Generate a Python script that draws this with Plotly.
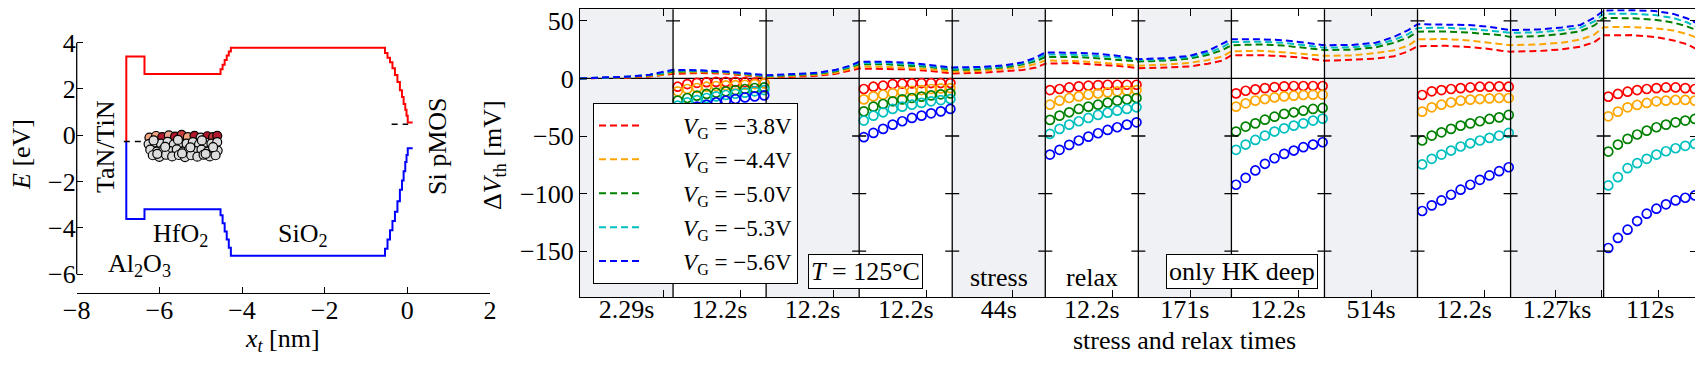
import plotly.graph_objects as go

# page body keeps the browser's default 8px margin, so the figure is drawn 8px in
OFF = 8
W, H = 1703 - OFF, 366 - OFF
FONT = "Liberation Serif, DejaVu Serif, Times New Roman, serif"
FS = 26
LEG_FS = 23

# ---------------- left panel: band diagram ----------------
cb_x = [-6.80, -6.80, -6.36, -4.52, -4.47, -4.42, -4.37, -4.32, -4.27,
        -0.54, -0.48, -0.42, -0.36, -0.30, -0.24, -0.18, -0.13, -0.09, -0.05, -0.02, 0.01, 0.13]
cb_y = [-0.25, 3.40, 2.65, 2.85, 3.05, 3.25, 3.45, 3.62, 3.78,
        3.55, 3.35, 3.15, 2.90, 2.60, 2.30, 1.95, 1.65, 1.35, 1.10, 0.85, 0.55, 0.55]
vb_x = [-6.80, -6.80, -6.36, -4.52, -4.47, -4.42, -4.37, -4.32, -4.27,
        -0.54, -0.48, -0.42, -0.36, -0.30, -0.24, -0.18, -0.13, -0.09, -0.05, -0.02, 0.01, 0.13]
vb_y = [-0.25, -3.61, -3.19, -3.45, -3.80, -4.15, -4.50, -4.85, -5.20,
        -4.90, -4.50, -4.10, -3.70, -3.30, -2.85, -2.35, -1.95, -1.55, -1.15, -0.85, -0.56, -0.56]
ef_metal_x = [-6.86, -6.36]
ef_metal_y = [-0.27, -0.27]
ef_si_x = [-0.38, 0.02]
ef_si_y = [0.48, 0.48]

trap_x = [-6.24, -6.08, -5.93, -5.77, -5.62, -5.46, -5.31, -5.15, -5.00, -4.84, -4.70, -4.60,
          -6.26, -6.11, -5.96, -5.80, -5.65, -5.50, -5.34, -5.19, -5.04, -4.89, -4.74, -4.60,
          -6.22, -6.06, -5.90, -5.74, -5.58, -5.43, -5.28, -5.13, -4.98, -4.83, -4.69, -4.59,
          -6.16, -6.00, -5.84, -5.69, -5.53, -5.38, -5.23, -5.08, -4.93, -4.78, -4.64,
          -6.14, -5.55, -4.97, -5.86, -5.25, -4.70, -6.05, -5.45, -4.88]
trap_y = [-0.10, -0.03, -0.08, 0.00, -0.06, 0.02, -0.08, -0.02, -0.10, -0.04, -0.08, -0.02,
          -0.38, -0.30, -0.36, -0.28, -0.39, -0.31, -0.36, -0.29, -0.39, -0.31, -0.36, -0.29,
          -0.62, -0.70, -0.60, -0.68, -0.61, -0.71, -0.60, -0.68, -0.62, -0.70, -0.60, -0.66,
          -0.86, -0.93, -0.84, -0.91, -0.85, -0.94, -0.86, -0.92, -0.84, -0.91, -0.86,
          -0.22, -0.20, -0.22, -0.50, -0.52, -0.51, -0.80, -0.78, -0.80]
trap_c = (["#f4a582", "#f4a582", "#b2182b", "#e7a08a", "#b2182b", "#c43c3c",
           "#f4a582", "#b2182b", "#d9d9d9", "#b2182b", "#c43c3c", "#b2182b"]
          + ["#dcdcdc"] * 44)

# ---------------- right panel: stress / relax ----------------
panel_labels = ["2.29s", "12.2s", "12.2s", "12.2s", "44s", "12.2s",
                "171s", "12.2s", "514s", "12.2s", "1.27ks", "112s"]
stress_panels = [0, 2, 4, 6, 8, 10]
relax_panels = [1, 3, 5, 7, 9, 11]
minor_ticks = [0.895, 1.725, 2.72, 3.727, 4.65, 5.72, 6.56, 7.725,
               8.51, 9.725, 10.484, 10.978, 11.585]
vg_names = ["−3.8V", "−4.4V", "−5.0V", "−5.3V", "−5.6V"]
vg_colors = ["#ff0000", "#ffa500", "#008000", "#00bfbf", "#0000ff"]

sim_frac = [0, 0.3, 0.55, 0.75, 0.9]
sim_m38 = [0, 0.3, 0.8, 1.7, 2.7,  4.0, 4.7, 4.2, 2.8, 1.2,  0.7, 1.4, 2.3, 4.0, 6.6,
           8.6, 8.1, 7.8, 6.6, 5.2,  4.3, 4.9, 6.1, 7.2, 9.5,  12.8, 13.3, 12.3, 11.0, 10.0,
           8.8, 9.5, 10.4, 12.8, 15.3,  20.0, 20.2, 19.3, 18.2, 16.5,  15.3, 16.2, 17.2, 19.3, 23.5,
           28.0, 28.3, 27.2, 25.8, 24.0,  23.2, 23.8, 25.2, 27.5, 31.5,  37.5, 37.6, 36.0, 33.0, 29.5,
           25.4]
sim_m44 = [0, 0.5, 1.1, 2.3, 3.5,  5.2, 5.5, 5.0, 3.5, 2.0,  1.3, 2.2, 3.2, 5.0, 8.0,
           10.4, 10.0, 9.2, 8.0, 6.8,  5.8, 6.5, 8.0, 10.0, 12.5,  15.6, 15.2, 14.0, 12.8, 11.8,
           11.0, 12.0, 13.5, 16.0, 19.0,  23.5, 24.0, 22.8, 21.5, 20.3,  19.6, 20.0, 22.0, 24.5, 28.5,
           34.0, 34.2, 33.0, 31.0, 29.5,  28.9, 29.5, 31.0, 33.7, 38.0,  44.5, 44.6, 43.5, 41.5, 38.5,
           35.4]
sim_m50 = [0, 0.6, 1.4, 2.8, 4.3,  6.0, 6.2, 5.5, 4.0, 2.6,  1.9, 3.0, 4.0, 6.2, 9.5,
           12.2, 12.2, 11.2, 10.0, 8.5,  7.3, 8.0, 9.5, 12.0, 15.0,  18.6, 18.7, 17.6, 16.5, 15.5,
           14.7, 15.5, 17.2, 20.5, 24.5,  28.8, 29.5, 28.6, 27.0, 25.5,  24.6, 25.0, 27.0, 31.0, 35.5,
           40.6, 40.7, 39.8, 38.7, 37.5,  36.0, 36.7, 38.5, 41.0, 46.0,  52.4, 52.3, 51.0, 48.5, 45.0,
           41.9]
sim_m53 = [0, 0.7, 1.6, 3.1, 4.8,  6.8, 6.7, 5.8, 4.4, 2.9,  2.3, 3.4, 4.5, 6.9, 10.3,
           13.3, 13.3, 12.4, 11.0, 9.4,  8.3, 9.0, 10.5, 13.0, 16.5,  20.7, 20.6, 19.6, 18.5, 17.0,
           15.9, 16.6, 18.5, 22.0, 27.0,  31.5, 31.9, 31.0, 29.3, 27.8,  26.7, 27.0, 29.0, 33.5, 38.5,
           43.8, 44.0, 43.0, 41.8, 40.5,  39.5, 40.0, 41.8, 44.0, 49.5,  56.0, 56.2, 55.0, 52.5, 48.5,
           44.8]
sim_m56 = [0, 0.9, 1.7, 3.2, 5.5,  7.5, 7.0, 6.1, 4.7, 3.2,  2.8, 3.8, 4.9, 7.5, 11.0,
           14.4, 14.4, 13.5, 12.1, 10.4,  9.5, 10.0, 11.2, 13.8, 18.2,  22.5, 22.3, 21.5, 20.0, 18.0,
           16.7, 17.6, 19.6, 24.0, 30.3,  34.0, 34.0, 33.2, 31.4, 29.6,  28.8, 29.1, 30.9, 36.1, 41.9,
           47.0, 47.0, 46.4, 45.0, 43.0,  41.9, 42.5, 44.2, 46.4, 52.8,  59.0, 59.3, 58.5, 56.0, 52.0,
           48.0]

meas_frac = [0.05, 0.153, 0.257, 0.36, 0.463, 0.567, 0.67, 0.773, 0.877, 0.98]
meas_m38 = [-7.2, -4.9, -3.8, -3.3, -3.0, -3.0, -3.0, -3.3, -3.6, -4.0,
            -9.2, -7.2, -6.3, -4.9, -4.6, -4.3, -4.0, -4.0, -4.0, -4.0,
            -10.1, -9.2, -7.8, -6.9, -6.3, -5.8, -5.5, -5.5, -5.5, -5.5,
            -13.0, -10.7, -9.5, -8.4, -7.5, -6.9, -6.6, -6.6, -6.6, -6.6,
            -14.4, -11.2, -10.1, -9.2, -8.4, -7.8, -7.2, -7.2, -6.9, -7.2,
            -15.8, -13.5, -11.5, -10.1, -9.2, -8.4, -7.8, -7.8, -8.4, -9.2]
meas_m44 = [-11.2, -9.2, -8.3, -7.2, -6.6, -6.0, -5.8, -5.5, -4.9, -4.3,
            -18.2, -15.6, -14.1, -12.7, -11.5, -10.7, -10.1, -9.2, -8.7, -8.4,
            -22.8, -19.3, -17.0, -15.6, -14.1, -13.0, -12.1, -11.2, -10.7, -10.1,
            -24.5, -21.6, -19.3, -17.9, -16.5, -15.6, -15.0, -14.4, -14.1, -14.1,
            -28.8, -25.1, -22.8, -20.8, -19.3, -18.4, -17.9, -17.3, -17.0, -17.0,
            -32.9, -28.8, -25.1, -23.0, -21.3, -19.9, -19.3, -18.7, -18.7, -19.3]
meas_m50 = [-19.3, -17.0, -15.0, -13.5, -12.4, -11.2, -10.1, -9.2, -8.3, -7.8,
            -28.6, -24.5, -22.2, -19.9, -18.2, -17.0, -15.8, -14.7, -13.8, -13.0,
            -36.0, -32.3, -29.4, -26.5, -24.5, -22.8, -21.0, -19.3, -18.2, -17.0,
            -46.1, -41.8, -39.0, -35.8, -33.2, -30.8, -29.4, -28.0, -26.5, -25.6,
            -53.9, -49.6, -46.8, -43.8, -41.0, -39.0, -37.2, -35.2, -33.8, -31.7,
            -63.5, -57.4, -52.5, -48.7, -45.3, -42.4, -40.1, -38.1, -36.6, -35.2]
meas_m53 = [-23.6, -20.8, -18.8, -17.0, -15.6, -14.4, -13.3, -12.4, -11.2, -10.1,
            -36.6, -32.3, -29.4, -26.5, -24.5, -22.8, -21.3, -19.9, -18.8, -17.9,
            -48.2, -43.8, -40.1, -37.2, -34.3, -31.7, -29.7, -28.0, -26.5, -25.1,
            -62.0, -57.4, -53.4, -49.6, -46.1, -43.3, -41.0, -39.0, -36.6, -34.9,
            -74.7, -69.8, -66.1, -62.6, -59.1, -56.3, -53.9, -51.6, -49.6, -47.3,
            -92.9, -85.7, -77.9, -73.6, -69.8, -66.1, -63.2, -60.6, -58.5, -56.8]
meas_m56 = [-28.8, -26.5, -24.5, -22.8, -20.8, -19.3, -17.9, -16.5, -15.6, -14.7,
            -51.0, -47.3, -43.8, -40.1, -37.2, -34.3, -32.3, -30.3, -28.6, -26.5,
            -66.1, -62.0, -57.7, -53.9, -50.5, -47.6, -44.7, -42.4, -40.1, -38.1,
            -92.3, -86.3, -79.9, -74.1, -69.3, -65.5, -62.6, -59.7, -57.4, -55.4,
            -115.1, -110.2, -105.9, -101.0, -96.6, -92.3, -88.0, -84.2, -80.5, -77.1,
            -147.2, -138.5, -131.3, -123.8, -117.4, -113.1, -109.3, -105.9, -103.6, -101.6]

sim_series = [sim_m38, sim_m44, sim_m50, sim_m53, sim_m56]
meas_series = [meas_m38, meas_m44, meas_m50, meas_m53, meas_m56]
sim_x = [k + f for k in range(12) for f in sim_frac] + [12]
meas_x = [k + f for k in relax_panels for f in meas_frac]


def px(p):
    """screen pixel (x) of the 1703x366 window -> paper fraction"""
    return (p - OFF) / W


def py(p):
    return 1 - (p - OFF) / H


L_X0, L_X1, L_Y0, L_Y1 = 76.7, 490.0, 9.3, 293.3
L_YR = [-6.82, 5.44]
R_X0, R_X1, R_Y0, R_Y1 = 580.0, 1696.7, 9.3, 297.3


def ly(v):
    return py(L_Y1) + (v - L_YR[0]) / (L_YR[1] - L_YR[0]) * (py(L_Y0) - py(L_Y1))


fig = go.Figure()

# left traces
fig.add_trace(go.Scatter(x=cb_x, y=cb_y, mode="lines", line=dict(color="#ff0000", width=2, shape="hv"),
                         xaxis="x", yaxis="y", showlegend=False))
fig.add_trace(go.Scatter(x=vb_x, y=vb_y, mode="lines", line=dict(color="#0000ff", width=2, shape="hv"),
                         xaxis="x", yaxis="y", showlegend=False))
for ex, ey in [(ef_metal_x, ef_metal_y), (ef_si_x, ef_si_y)]:
    fig.add_trace(go.Scatter(x=ex, y=ey, mode="lines", line=dict(color="black", width=1.5, dash="6px,5px"),
                             xaxis="x", yaxis="y", showlegend=False))
fig.add_trace(go.Scatter(x=trap_x, y=trap_y, mode="markers",
                         marker=dict(size=9, color=trap_c, line=dict(color="black", width=1.2)),
                         xaxis="x", yaxis="y", showlegend=False))

# right traces
for i in range(5):
    fig.add_trace(go.Scatter(
        x=sim_x, y=sim_series[i], mode="lines",
        line=dict(color=vg_colors[i], width=2, dash="7px,4px"),
        name="\u2002\u2002\u2002\u2009<i>V</i><sub>G</sub> = " + vg_names[i], legendgroup="g%d" % i,
        xaxis="x2", yaxis="y2", showlegend=True))
for i in range(5):
    fig.add_trace(go.Scatter(
        x=meas_x, y=meas_series[i], mode="markers",
        marker=dict(symbol="circle-open", size=9, color=vg_colors[i], line=dict(width=1.7, color=vg_colors[i])),
        xaxis="x2", yaxis="y2", showlegend=False, legendgroup="g%d" % i))

shapes = []
for k in stress_panels:
    shapes.append(dict(type="rect", xref="x2", yref="y2 domain", x0=k, x1=k + 1, y0=0, y1=1,
                       fillcolor="#f0f1f4", line=dict(width=0), layer="below"))
shapes.append(dict(type="line", xref="x2", yref="y2", x0=0, x1=12, y0=0, y1=0,
                   line=dict(color="black", width=1.3), layer="below"))
for k in range(1, 12):
    shapes.append(dict(type="line", xref="x2", yref="y2 domain", x0=k, x1=k, y0=0, y1=1,
                       line=dict(color="black", width=1.3), layer="above"))
    for v in [50, -50, -100, -150]:
        shapes.append(dict(type="line", xref="x2", xsizemode="pixel", xanchor=k, x0=-7, x1=7,
                           yref="y2", y0=v, y1=v, line=dict(color="black", width=1.3), layer="above"))
# left y spine (from -6 to 4)
shapes.append(dict(type="line", xref="paper", yref="paper", x0=px(L_X0), x1=px(L_X0),
                   y0=ly(-6), y1=ly(4), line=dict(color="black", width=1.3)))

ann = []
tf = dict(family=FONT, size=FS, color="black")


def add_text(x, y, text, rot=0, xref="paper", yref="paper", **kw):
    d = dict(x=x, y=y, xref=xref, yref=yref, text=text, showarrow=False, textangle=rot,
             font=tf, xanchor="center", yanchor="middle")
    d.update(kw)
    ann.append(d)


add_text(px(21), py(155), "<i>E</i> [eV]", rot=-90)
add_text(px(282), py(340), "<i>x<sub>t</sub></i> [nm]")
add_text(px(105), py(147), "TaN/TiN", rot=-90)
add_text(px(437), py(146), "Si pMOS", rot=-90)
add_text(px(180), py(235), "HfO<sub>2</sub>")
add_text(px(303), py(235), "SiO<sub>2</sub>")
add_text(px(139), py(265), "Al<sub>2</sub>O<sub>3</sub>")
add_text(px(494), py(155), "Δ<i>V</i><sub>th</sub> [mV]", rot=-90)
add_text(6.5, py(340), "stress and relax times", xref="x2")
add_text(4.5, py(277), "stress", xref="x2")
add_text(5.5, py(277), "relax", xref="x2")
add_text(px(866), py(271), "<i>T</i> = 125°C", bgcolor="white", bordercolor="black", borderwidth=1, borderpad=2)
add_text(px(1241.7), py(271), "only HK deep", bgcolor="white", bordercolor="black", borderwidth=1, borderpad=2)

axfont = dict(family=FONT, size=FS, color="black")
common = dict(automargin=False, showgrid=False, zeroline=False, tickfont=axfont)
fig.update_layout(
    template="none",
    width=W, height=H, margin=dict(l=0, r=0, t=0, b=0, autoexpand=False),
    paper_bgcolor="white", plot_bgcolor="white",
    font=dict(family=FONT, size=FS, color="black"),
    xaxis=dict(domain=[px(L_X0), px(L_X1)], range=[-8, 2], tickvals=[-8, -6, -4, -2, 0, 2],
               ticks="inside", ticklen=6, tickwidth=1.3, tickcolor="black", showline=True,
               linecolor="black", linewidth=1.3, anchor="y", ticklabelstandoff=-7,
               ticklabeloverflow="allow", **common),
    yaxis=dict(domain=[py(L_Y1), py(L_Y0)], range=L_YR, tickvals=[-6, -4, -2, 0, 2, 4],
               ticks="inside", ticklen=6, tickwidth=1.3, tickcolor="black", showline=False,
               anchor="x", ticklabeloverflow="allow", **common),
    xaxis2=dict(domain=[px(R_X0), min(1.0, px(R_X1))], range=[0, 12], tickvals=minor_ticks,
                ticks="inside", ticklen=7, tickwidth=1.3, tickcolor="black", mirror="ticks",
                showline=True, linecolor="black", linewidth=1.3,
                showticklabels=False, anchor="y2", **common),
    xaxis3=dict(range=[0, 12], overlaying="x2", anchor="y2", side="bottom",
                tickvals=[k + 0.5 for k in range(12)], ticktext=panel_labels, ticks="",
                showline=False, ticklabelstandoff=-6, ticklabeloverflow="allow", **common),
    yaxis2=dict(domain=[py(R_Y1), py(R_Y0)], range=[-190, 60], tickvals=[50, 0, -50, -100, -150],
                ticks="inside", ticklen=7, tickwidth=1.3, tickcolor="black", mirror="ticks",
                showline=True, linecolor="black", linewidth=1.3, anchor="x2",
                ticklabeloverflow="allow", **common),
    legend=dict(x=px(593), y=py(103), xanchor="left", yanchor="top", bgcolor="white",
                bordercolor="black", borderwidth=1, font=dict(family=FONT, size=LEG_FS, color="black"),
                tracegroupgap=1, itemwidth=40),
    shapes=shapes, annotations=ann,
)
fig.add_trace(go.Scatter(x=[None], y=[None], xaxis="x3", yaxis="y2", showlegend=False))

fig.write_html("out.html")
